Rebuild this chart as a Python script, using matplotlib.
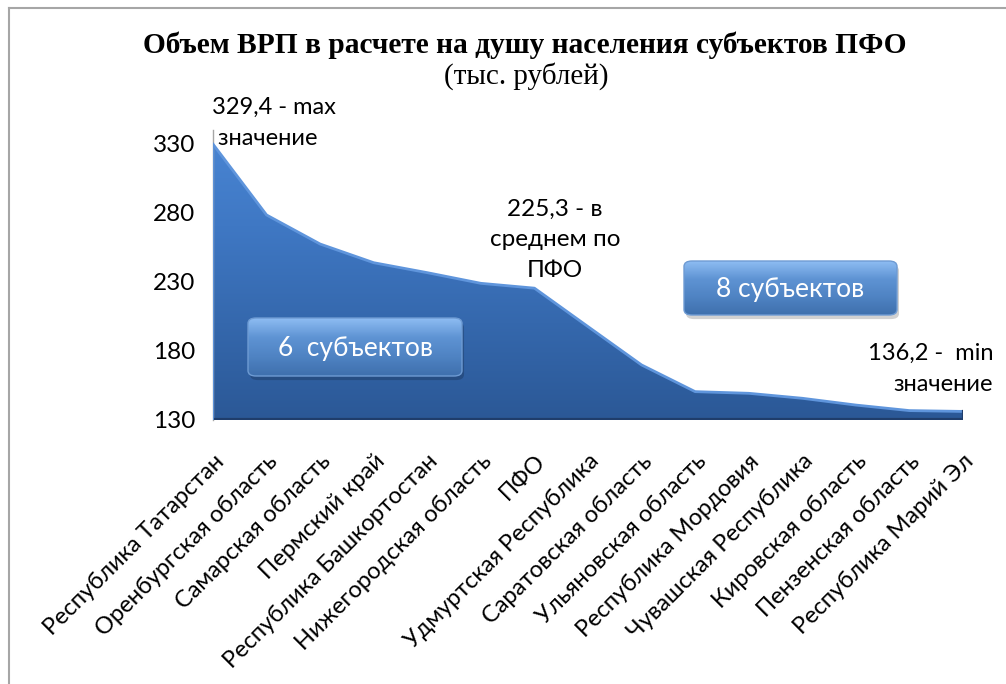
import numpy as np
import matplotlib
matplotlib.use('Agg')
from matplotlib import pyplot as plt
from matplotlib.patches import Polygon, FancyBboxPatch
from matplotlib.colors import LinearSegmentedColormap

# Data
regions = ['Республика Татарстан', 'Оренбургская область', 'Самарская область',
           'Пермский край', 'Республика Башкортостан', 'Нижегородская область',
           'ПФО', 'Удмуртская Республика', 'Саратовская область',
           'Ульяновская область', 'Республика Мордовия', 'Чувашская Республика',
           'Кировская область', 'Пензенская область', 'Республика Марий Эл']
grp = [329.4, 278.2, 257.2, 243.7, 236.5, 228.8, 225.3, 197.5, 169.8,
       150.5, 149.3, 145.7, 140.8, 136.8, 136.2]
y_ticks = [130, 180, 230, 280, 330]

W, H = 1006, 684
fig = plt.figure(figsize=(W / 100, H / 100), dpi=100)

def fx(x):
    return x / W

def fy(y):
    return 1 - y / H

# outer frame (left and top only are visible)
fig.add_artist(plt.Line2D([fx(8.5), fx(8.5)], [fy(8), fy(700)], color='#a6a6a6', lw=1.5))
fig.add_artist(plt.Line2D([fx(8.5), fx(1010)], [fy(8), fy(8)], color='#a6a6a6', lw=1.5))

ax = fig.add_axes([fx(213), fy(420), fx(963) - fx(213), fy(129.5) - fy(420)])
x = np.arange(len(regions))
ax.set_xlim(0, len(regions) - 1)
ax.set_ylim(130, 340)

# area with vertical gradient
verts = list(zip(x, grp)) + [(x[-1], 130), (x[0], 130)]
area = Polygon(verts, closed=True, facecolor='none', edgecolor='none', zorder=2)
ax.add_patch(area)
cmap = LinearSegmentedColormap.from_list('a', ['#2b5896', '#3568ad', '#3f78c4', '#4a86d4'])
grad = np.linspace(0, 1, 256).reshape(-1, 1)
img = ax.imshow(grad, extent=[0, x[-1], 130, 340], origin='lower', aspect='auto',
                cmap=cmap, zorder=2)
img.set_clip_path(area)
ax.plot(x, grp, color='#5f95dc', lw=2.0, zorder=3, solid_joinstyle='round')
ax.plot([x[0], x[-1], x[-1]], [130.6, 130.6, grp[-1]], color='#1f3d6b', lw=1.6, zorder=3)
ax.plot([x[0], x[0]], [130, grp[0]], color='#5d92d8', lw=1.5, zorder=3)

for s in ['top', 'right', 'bottom']:
    ax.spines[s].set_visible(False)
ax.spines['left'].set_color('#a6a6a6')
ax.spines['left'].set_linewidth(1.0)

ax.set_yticks(y_ticks)
ax.set_yticklabels([str(v) for v in y_ticks], fontsize=17.5, family='Lato')
ax.tick_params(axis='y', length=0, pad=13)
ax.set_xticks(x)
ax.set_xticklabels(regions, rotation=45, ha='right', va='top', rotation_mode='anchor',
                   fontsize=17, family='Lato')
ax.tick_params(axis='x', length=0, pad=22)

# titles
fig.text(fx(525), fy(45), 'Объем ВРП в расчете на душу населения субъектов ПФО',
         ha='center', va='center', fontsize=21.2, fontweight='bold', family='Liberation Serif')
fig.text(fx(526), fy(76), '(тыс. рублей)', ha='center', va='center', fontsize=21,
         family='Liberation Serif')

# annotations
fig.text(fx(212), fy(123), '329,4 - max\n значение', ha='left', va='center', fontsize=17,
         family='Lato', linespacing=1.6)
fig.text(fx(555), fy(240), '225,3 - в\nсреднем по\nПФО', ha='center', va='center',
         fontsize=17.5, family='Lato', linespacing=1.55)
fig.text(fx(993), fy(369), '136,2 -  min\nзначение', ha='right', va='center', fontsize=17,
         family='Lato', linespacing=1.6)

# bevelled labels
bcmap = LinearSegmentedColormap.from_list('b', ['#3f70ad', '#4f83c3', '#5e93d3', '#8dbcf2'])

def bevel_box(x0, y0, x1, y1, label):
    shadow = FancyBboxPatch((fx(x0) + 0.002, fy(y1) - 0.006), fx(x1 - x0), fy(y0) - fy(y1),
                            boxstyle='round,pad=0,rounding_size=0.008',
                            transform=fig.transFigure, facecolor='#000000', alpha=0.18,
                            edgecolor='none', zorder=4)
    fig.add_artist(shadow)
    box = FancyBboxPatch((fx(x0), fy(y1)), fx(x1 - x0), fy(y0) - fy(y1),
                         boxstyle='round,pad=0,rounding_size=0.008',
                         transform=fig.transFigure, facecolor='none',
                         edgecolor='#6e9bd3', lw=1.0, zorder=6)
    fig.add_artist(box)
    bax = fig.add_axes([fx(x0), fy(y1), fx(x1 - x0), fy(y0) - fy(y1)], zorder=5)
    bax.axis('off')
    g = np.linspace(0, 1, 64).reshape(-1, 1)
    im = bax.imshow(g, extent=[0, 1, 0, 1], origin='lower', aspect='auto', cmap=bcmap)
    im.set_clip_path(box)
    bax.text(0.5, 0.47, label, ha='center', va='center', color='white', fontsize=19,
             family='Lato', zorder=7)

bevel_box(248, 318, 462, 376, '6  субъектов')
bevel_box(684, 261, 897, 315, '8 субъектов')

fig.savefig('out.png', dpi=100)
